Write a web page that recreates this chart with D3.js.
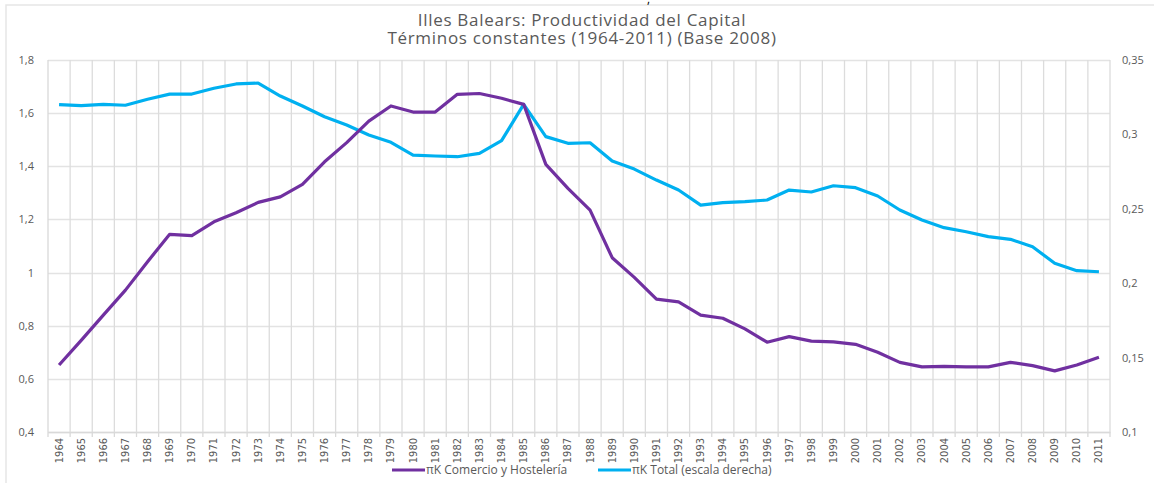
<!DOCTYPE html>
<html>
<head>
<meta charset="utf-8">
<script src="https://cdn.jsdelivr.net/npm/d3@7"></script>
<style>
  body { margin: 0; background: #fff; }
  svg text { font-family: "Open Sans", Lato, sans-serif; fill: #595959; }
  .yr text { font-family: "Liberation Sans Narrow", "DejaVu Sans Condensed", sans-serif; }
</style>
</head>
<body>
<svg id="chart" width="1154" height="483"></svg>
<script>
// years on the x axis
var years = d3.range(1964, 2012).map(String);

// πK Comercio y Hosteleria (left scale)
var comercio = [0.652, 0.745, 0.840, 0.934, 1.041, 1.144, 1.139, 1.191, 1.225, 1.264,
  1.285, 1.332, 1.417, 1.489, 1.570, 1.627, 1.604, 1.604, 1.671, 1.674,
  1.656, 1.633, 1.407, 1.317, 1.235, 1.056, 0.982, 0.900, 0.890, 0.840,
  0.828, 0.788, 0.738, 0.759, 0.742, 0.739, 0.730, 0.700, 0.662, 0.645,
  0.647, 0.645, 0.645, 0.662, 0.650, 0.630, 0.652, 0.681];

// πK Total (right scale)
var total = [0.3200, 0.3193, 0.3202, 0.3196, 0.3236, 0.3271, 0.3271, 0.3310, 0.3339, 0.3345,
  0.3258, 0.3191, 0.3119, 0.3063, 0.2996, 0.2947, 0.2861, 0.2855, 0.2850, 0.2873,
  0.2958, 0.3202, 0.2985, 0.2940, 0.2944, 0.2821, 0.2767, 0.2693, 0.2626, 0.2525,
  0.2541, 0.2548, 0.2559, 0.2626, 0.2613, 0.2655, 0.2642, 0.2586, 0.2492, 0.2425,
  0.2373, 0.2346, 0.2313, 0.2295, 0.2245, 0.2134, 0.2084, 0.2077];

var leftTicks = [0.4, 0.6, 0.8, 1, 1.2, 1.4, 1.6, 1.8];
var rightTicks = [0.1, 0.15, 0.2, 0.25, 0.3, 0.35];

var svg = d3.select('#chart');
var plotL = 48, plotR = 1110, plotT = 60, plotB = 432;  // 'top' is taken by window
var fmt = function (d) { return String(d).replace('.', ','); };

// outer frame (partly cut in the picture)
svg.append('path').attr('d', 'M6,483V5H1154').attr('fill', 'none')
  .attr('stroke', '#e6e6e6').attr('stroke-width', 1.5);
svg.append('text').attr('x', 647).attr('y', 3).attr('font-size', 12)
  .style('fill', '#000').text(',');

var x = d3.scaleBand().domain(years).range([plotL, plotR]);
var yL = d3.scaleLinear().domain([0.4, 1.8]).range([plotB, plotT]);
var yR = d3.scaleLinear().domain([0.1, 0.35]).range([plotB, plotT]);

// grid
var grid = svg.append('g');
grid.selectAll('.h').data(leftTicks).enter().append('line')
  .attr('x1', plotL).attr('x2', plotR)
  .attr('y1', function (d) { return Math.round(yL(d)) + 0.5; })
  .attr('y2', function (d) { return Math.round(yL(d)) + 0.5; })
  .attr('stroke', '#e3e3e3').attr('stroke-width', 1.3);
grid.selectAll('.v').data(years.slice(1).concat(['end'])).enter().append('line')
  .attr('x1', function (d) { return d == 'end' ? plotR : x(d); })
  .attr('x2', function (d) { return d == 'end' ? plotR : x(d); })
  .attr('y1', plotT).attr('y2', plotB)
  .attr('stroke', '#dcdcdc').attr('stroke-width', 1.3);

// axes
var yAxL = svg.append('g').attr('transform', 'translate(' + plotL + ',0)')
  .call(d3.axisLeft(yL).tickValues(leftTicks).tickSize(0).tickPadding(14).tickFormat(fmt));
var yAxR = svg.append('g').attr('transform', 'translate(' + plotR + ',0)')
  .call(d3.axisRight(yR).tickValues(rightTicks).tickSize(0).tickPadding(12).tickFormat(fmt));
[yAxL, yAxR].forEach(function (a) {
  a.select('.domain').remove();
  a.selectAll('text').attr('font-size', 11).style('fill', '#595959');
});
svg.append('line').attr('x1', plotL).attr('x2', plotL).attr('y1', plotT).attr('y2', plotB)
  .attr('stroke', '#d9d9d9').attr('stroke-width', 1.3);

var xAx = svg.append('g').attr('class', 'yr').attr('transform', 'translate(0,' + plotB + ')')
  .call(d3.axisBottom(x).tickSize(0));
xAx.select('.domain').attr('stroke', '#d9d9d9').attr('stroke-width', 1.3);
xAx.selectAll('text').attr('font-size', 11).style('fill', '#595959')
  .attr('text-anchor', 'end').attr('transform', 'rotate(-90)')
  .attr('x', -6).attr('y', 0).attr('dx', 0).attr('dy', '0.32em');
// small ticks between categories
svg.append('g').selectAll('line').data(years.concat(['end'])).enter().append('line')
  .attr('x1', function (d) { return d == 'end' ? plotR : x(d); })
  .attr('x2', function (d) { return d == 'end' ? plotR : x(d); })
  .attr('y1', plotB).attr('y2', plotB + 5)
  .attr('stroke', '#d9d9d9').attr('stroke-width', 1.3);

// series
var cx = function (d, i) { return x(years[i]) + x.bandwidth() / 2; };
svg.append('path').datum(total)
  .attr('d', d3.line().x(cx).y(function (d) { return yR(d); }))
  .attr('fill', 'none').attr('stroke', '#00b0f0').attr('stroke-width', 3.2)
  .attr('stroke-linejoin', 'round');
svg.append('path').datum(comercio)
  .attr('d', d3.line().x(cx).y(function (d) { return yL(d); }))
  .attr('fill', 'none').attr('stroke', '#7030a0').attr('stroke-width', 3.2)
  .attr('stroke-linejoin', 'round');

// title
svg.append('text').attr('x', 582).attr('y', 26).attr('text-anchor', 'middle')
  .attr('font-size', 17).attr('letter-spacing', 0.7)
  .text('Illes Balears: Productividad del Capital');
svg.append('text').attr('x', 582).attr('y', 44).attr('text-anchor', 'middle')
  .attr('font-size', 17).attr('letter-spacing', 0.7)
  .text('Términos constantes (1964-2011) (Base 2008)');

// legend
var legend = [
  { name: 'πK Comercio y Hostelería', color: '#7030a0', x: 392 },
  { name: 'πK Total (escala derecha)', color: '#00b0f0', x: 598 }
];
var lg = svg.append('g').selectAll('g').data(legend).enter().append('g')
  .attr('transform', function (d) { return 'translate(' + d.x + ',470)'; });
lg.append('line').attr('x1', 0).attr('x2', 33)
  .attr('stroke', function (d) { return d.color; }).attr('stroke-width', 3.2);
lg.append('text').attr('x', 34).attr('dy', '0.35em').attr('font-size', 12)
  .text(function (d) { return d.name; });
</script>
</body>
</html>
